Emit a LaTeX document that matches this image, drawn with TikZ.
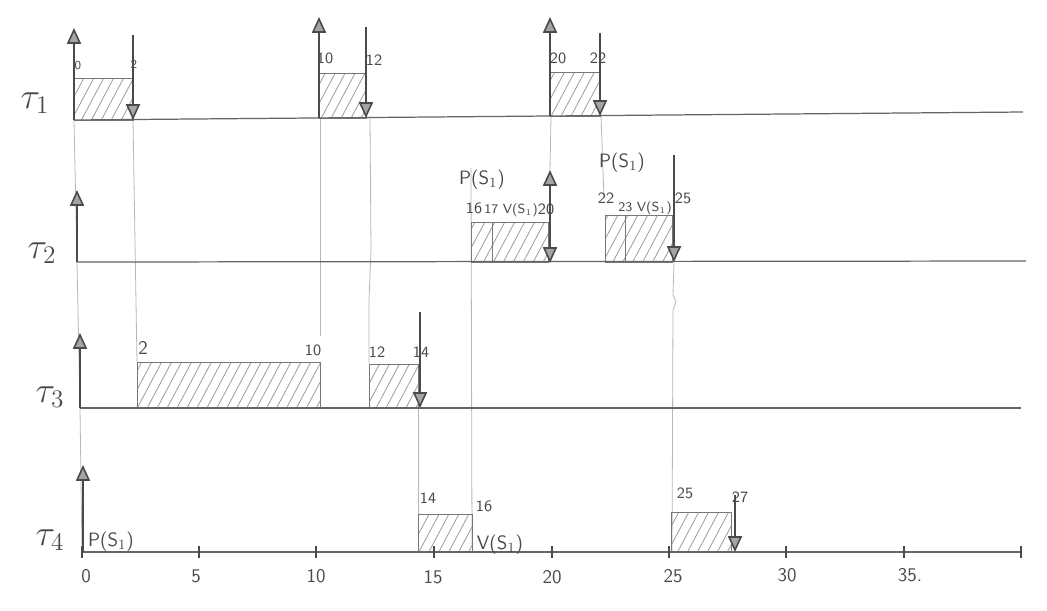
\documentclass[tikz,border=0pt]{standalone}
\usetikzlibrary{arrows.meta,patterns.meta}
\definecolor{pencil}{HTML}{4A4A4A}
\tikzset{
  baseln/.style={draw=pencil!85,line width=0.7pt},
  guide/.style={draw=pencil!40,line width=0.45pt},
  jobbox/.style={draw=pencil!75,line width=0.5pt,pattern={Lines[angle=62,distance=5pt,line width=0.45pt]},pattern color=pencil!55},
  divider/.style={draw=pencil!75,line width=0.5pt},
  evt/.style={draw=pencil,line width=0.9pt,-{Triangle[width=8pt,length=9pt,fill=pencil!50]}},
  tickmk/.style={draw=pencil,line width=0.9pt},
  num/.style={font=\sffamily\fontsize{7}{8}\selectfont,text=pencil,inner sep=0.5pt},
  numb/.style={font=\sffamily\fontsize{9}{10}\selectfont,text=pencil,inner sep=0.5pt},
  nums/.style={font=\sffamily\fontsize{7.5}{8}\selectfont,text=pencil,inner sep=0.3pt},
  sem/.style={font=\sffamily\fontsize{11}{12}\selectfont,text=pencil,inner sep=0.5pt},
  ticklbl/.style={font=\sffamily\fontsize{11}{12}\selectfont,text=pencil,inner sep=0.5pt},
  tname/.style={font=\huge,text=pencil,inner sep=0pt}
}
\begin{document}
\begin{tikzpicture}[x=0.02cm,y=-0.02cm]
\useasboundingbox (0,0) rectangle (1047,610);
\fill[white] (0,0) rectangle (1047,610);

% ---------- guide lines ----------
\draw[guide] (74,120) -- (77,262);
\draw[guide] (77,262) -- (80,408);
\draw[guide] (80,408) -- (82,552);
\draw[guide] (133,120) -- (137,362);
\draw[guide] (320,118) -- (320,336);
\draw[guide] (370,118) -- (371,250) -- (369,300) -- (369,364);
\draw[guide] (551,116) -- (550,170);
\draw[guide] (601,116) -- (604,198);
\draw[guide] (471,168) -- (472,548);
\draw[guide] (418,408) -- (418,552);
\draw[guide] (674,262) -- (673,295) -- (676,302) -- (673,310) -- (672,552);

% ---------- jobs ----------
% tau1
\draw[jobbox] (74,78) rectangle (133,120);
\draw[jobbox] (319,73) rectangle (366,118);
\draw[jobbox] (550,72) rectangle (600,116);
% tau2
\draw[jobbox] (471,222) rectangle (548,262);
\draw[divider] (492,222) -- (492,262);
\draw[jobbox] (605,215) rectangle (672,262);
\draw[divider] (625,215) -- (625,262);
% tau3
\draw[jobbox] (137,362) rectangle (320,408);
\draw[jobbox] (369,364) rectangle (418,408);
% tau4
\draw[jobbox] (418,514) rectangle (472,552);
\draw[jobbox] (671,512) rectangle (731,552);

% ---------- baselines ----------
\coordinate (b1s) at (74,120); \coordinate (b1e) at (1023,112);
\coordinate (b2s) at (77,262); \coordinate (b2e) at (1026,261);
\coordinate (b3s) at (80,408); \coordinate (b3e) at (1021,408);
\coordinate (b4s) at (82,552); \coordinate (b4e) at (1021,552);
\draw[baseln] (b1s) -- (b1e);
\draw[baseln] (b2s) -- (b2e);
\draw[baseln] (b3s) -- (b3e);
\draw[baseln] (b4s) -- (b4e);

% axis ticks
\foreach \t/\xx in {0/82,5/199,10/316,15/434,20/552,25/669,30/786,35/904,40/1021}{
  \draw[tickmk] (\xx,546) -- (\xx,558);
}

% ---------- release / deadline arrows ----------
% tau1
\draw[evt] (74,120) -- (74,28);
\draw[evt] (133,35) -- (133,120);
\draw[evt] (319,118) -- (319,17);
\draw[evt] (366,27) -- (366,118);
\draw[evt] (550,116) -- (550,17);
\draw[evt] (600,33) -- (600,116);
% tau2
\draw[evt] (77,262) -- (77,190);
\draw[evt] (550,230) -- (550,170);
\draw[evt] (550,200) -- (550,263);
\draw[evt] (674,155) -- (674,262);
% tau3
\draw[evt] (80,408) -- (80,333);
\draw[evt] (420,312) -- (420,408);
% tau4
\draw[evt] (83,552) -- (83,465);
\draw[evt] (735,495) -- (735,552);

% ---------- task names ----------
\node[tname] (n1) at (35,103) {$\tau_1$};
\node[tname] (n2) at (42,253) {$\tau_2$};
\node[tname] (n3) at (50,397) {$\tau_3$};
\node[tname] (n4) at (50,540) {$\tau_4$};

% ---------- labels tau1 ----------
\node[num] (l1a) at (78,65) {0};
\node[num] (l1b) at (134,64) {2};
\node[numb] (l1c) at (325,58) {10};
\node[numb] (l1d) at (374,60) {12};
\node[numb] (l1e) at (558,58) {20};
\node[numb] (l1f) at (598,58) {22};

% ---------- labels tau2 ----------
\node[sem] (l2a) at (482,180) {P(S$_1$)};
\node[numb] (l2b) at (474,208) {16};
\node[nums] (l2c) at (511,210) {17 V(S$_1$)};
\node[numb] (l2d) at (546,209) {20};
\node[sem] (l2e) at (622,163) {P(S$_1$)};
\node[numb] (l2f) at (606,198) {22};
\node[nums] (l2g) at (645,208) {23 V(S$_1$)};
\node[numb] (l2h) at (683,198) {25};

% ---------- labels tau3 ----------
\node[sem] (l3a) at (143,348) {2};
\node[numb] (l3b) at (313,350) {10};
\node[numb] (l3c) at (377,352) {12};
\node[numb] (l3d) at (421,352) {14};

% ---------- labels tau4 ----------
\node[sem] (l4a) at (111,542) {P(S$_1$)};
\node[numb] (l4b) at (428,498) {14};
\node[numb] (l4c) at (484,506) {16};
\node[sem] (l4d) at (500,545) {V(S$_1$)};
\node[numb] (l4e) at (685,493) {25};
\node[numb] (l4f) at (740,497) {27};

% ---------- axis labels ----------
\node[ticklbl] (t0) at (86,576) {0};
\node[ticklbl] (t5) at (196,576) {5};
\node[ticklbl] (t10) at (316,576) {10};
\node[ticklbl] (t15) at (433,577) {15};
\node[ticklbl] (t20) at (552,577) {20};
\node[ticklbl] (t25) at (673,576) {25};
\node[ticklbl] (t30) at (787,575) {30};
\node[ticklbl] (t35) at (910,575) {35.};
\end{tikzpicture}
\end{document}
